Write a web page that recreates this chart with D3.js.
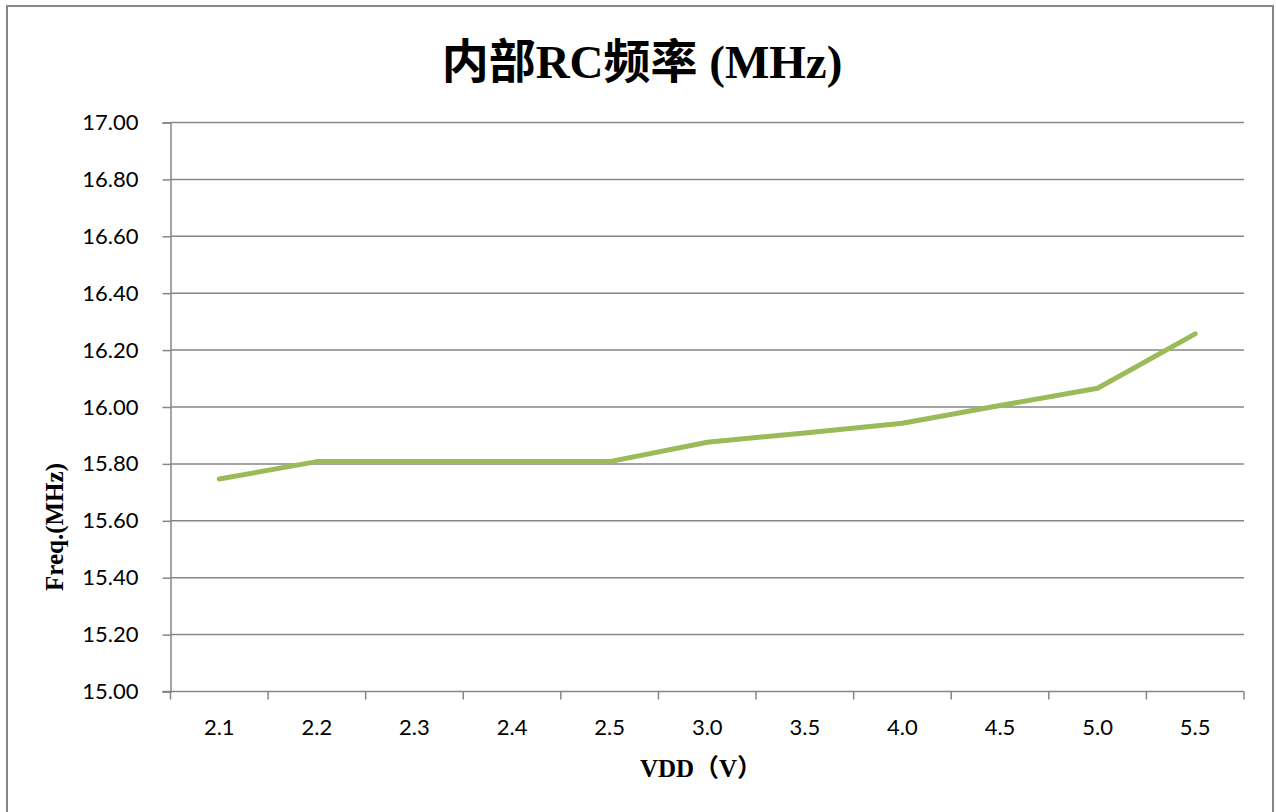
<!DOCTYPE html>
<html>
<head>
<meta charset="utf-8">
<script src="https://cdn.jsdelivr.net/npm/d3@7"></script>
<style>
  html, body { margin: 0; padding: 0; background: #fff; }
  svg { display: block; }
  .tick-label { font-family: Lato, "Open Sans", sans-serif; font-size: 22px; fill: #000; }
  .serif-bold { font-family: "Liberation Serif", "Noto Sans CJK SC", serif; font-weight: bold; fill: #000; }
</style>
</head>
<body>
<svg id="chart" width="1276" height="812"></svg>
<script>
// chart data
var categories = ["2.1", "2.2", "2.3", "2.4", "2.5", "3.0", "3.5", "4.0", "4.5", "5.0", "5.5"];
var freqValues = [15.747, 15.808, 15.808, 15.808, 15.808, 15.876, 15.909, 15.943, 16.005, 16.066, 16.257];
var yTicks = [15.0, 15.2, 15.4, 15.6, 15.8, 16.0, 16.2, 16.4, 16.6, 16.8, 17.0];

var svg = d3.select("#chart");
var grey = "#868686";

// outer chart border
svg.append("rect")
  .attr("x", 7).attr("y", 6)
  .attr("width", 1266).attr("height", 812)
  .attr("fill", "none")
  .attr("stroke", grey)
  .attr("stroke-width", 2);

var plot = { left: 170.5, right: 1244, top: 122.5, bottom: 691.5 };

var x = d3.scaleBand()
  .domain(categories)
  .range([plot.left, plot.right]);

var y = d3.scaleLinear()
  .domain([15, 17])
  .range([plot.bottom, plot.top]);

// y axis with ticks sticking out left
var yAxis = d3.axisLeft(y)
  .tickValues(yTicks)
  .tickSize(8)
  .tickPadding(24)
  .tickFormat(d3.format(".2f"));

var gy = svg.append("g")
  .attr("transform", "translate(" + plot.left + ",0)")
  .call(yAxis);
gy.attr("font-size", null).attr("font-family", null);
gy.select(".domain").attr("stroke", grey).attr("stroke-width", 1.5);
gy.selectAll(".tick line").attr("stroke", grey).attr("stroke-width", 1.5);
gy.selectAll(".tick text").attr("class", "tick-label");

// horizontal gridlines
svg.append("g")
  .selectAll("line")
  .data(yTicks.slice(1))
  .enter().append("line")
    .attr("x1", plot.left)
    .attr("x2", plot.right)
    .attr("y1", function(d) { return y(d); })
    .attr("y2", function(d) { return y(d); })
    .attr("stroke", grey)
    .attr("stroke-width", 1.5);

// x axis: ticks sit at the band boundaries, labels at band centres
var gx = svg.append("g")
  .attr("transform", "translate(0," + plot.bottom + ")");
gx.append("line")
  .attr("x1", plot.left - 8).attr("x2", plot.right)
  .attr("stroke", grey).attr("stroke-width", 1.5);

var bounds = categories.map(function(c) { return x(c); }).concat([plot.right]);
gx.selectAll("line.tick")
  .data(bounds)
  .enter().append("line")
    .attr("class", "tick")
    .attr("x1", function(d) { return d; })
    .attr("x2", function(d) { return d; })
    .attr("y1", 0).attr("y2", 8)
    .attr("stroke", grey).attr("stroke-width", 1.5);

gx.selectAll("text")
  .data(categories)
  .enter().append("text")
    .attr("class", "tick-label")
    .attr("x", function(d) { return x(d) + x.bandwidth() / 2; })
    .attr("y", 43)
    .attr("text-anchor", "middle")
    .text(function(d) { return d; });

// the series line
var line = d3.line()
  .x(function(d, i) { return x(categories[i]) + x.bandwidth() / 2; })
  .y(function(d) { return y(d); });

svg.append("path")
  .datum(freqValues)
  .attr("d", line)
  .attr("fill", "none")
  .attr("stroke", "#9BBB59")
  .attr("stroke-width", 5)
  .attr("stroke-linecap", "round")
  .attr("stroke-linejoin", "round");

// titles
svg.append("text")
  .attr("class", "serif-bold")
  .attr("x", 642).attr("y", 78)
  .attr("text-anchor", "middle")
  .attr("font-size", 47)
  .text("内部RC频率 (MHz)");

svg.append("text")
  .attr("class", "serif-bold")
  .attr("x", 701).attr("y", 777)
  .attr("text-anchor", "middle")
  .attr("font-size", 25)
  .text("VDD（V）");

svg.append("text")
  .attr("class", "serif-bold")
  .attr("transform", "translate(63,527) rotate(-90)")
  .attr("text-anchor", "middle")
  .attr("font-size", 25)
  .text("Freq.(MHz)");
</script>
</body>
</html>
